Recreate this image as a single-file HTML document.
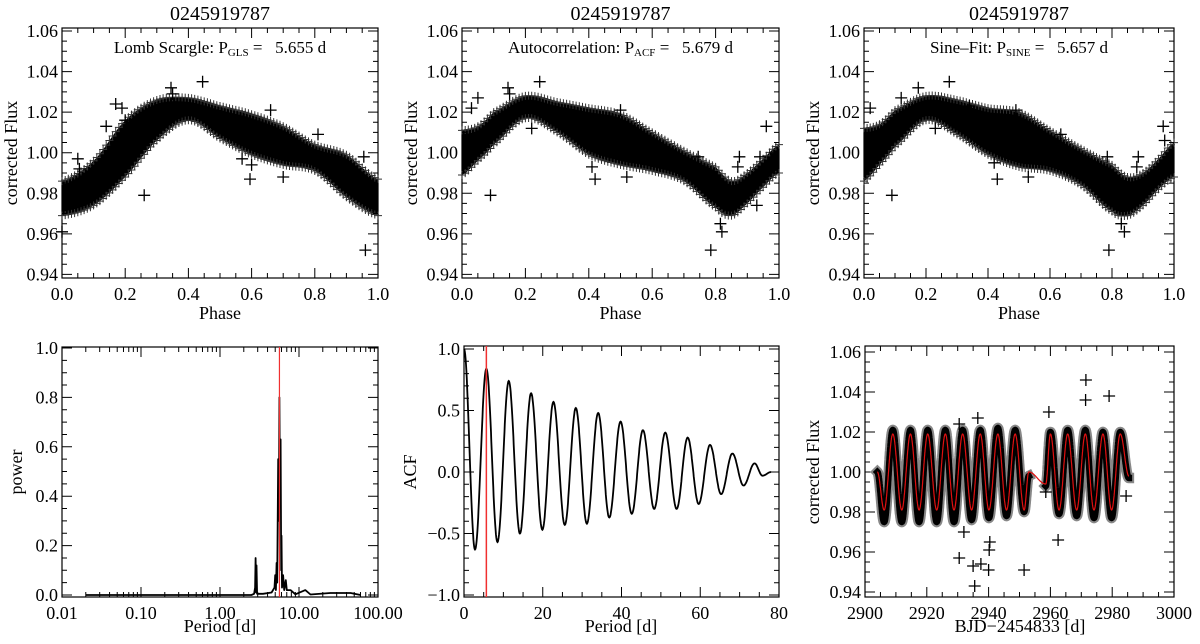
<!DOCTYPE html>
<html><head><meta charset="utf-8">
<style>
html,body{margin:0;padding:0;background:#fff;}
svg{display:block;font-family:"Liberation Serif",serif;}
</style></head>
<body>
<svg id="fig" width="1200" height="644" viewBox="0 0 1200 644" xmlns="http://www.w3.org/2000/svg"></svg>
<script>
// ---------- DATA ----------
const phaseKnots = [0,0.1,0.2,0.3,0.4,0.5,0.6,0.7,0.8,0.9,1.0];
const glsUpper = [0.986,0.996,1.016,1.026,1.027,1.023,1.019,1.013,1.004,0.999,0.987];
const glsLower = [0.969,0.974,0.988,1.006,1.016,1.007,0.999,0.994,0.991,0.978,0.969];
const acfKnots = [0,0.05,0.1,0.2,0.3,0.4,0.5,0.6,0.7,0.8,0.85,0.9,0.95,1.0];
const acfUpper = [1.011,1.013,1.020,1.028,1.025,1.022,1.019,1.010,1.001,0.993,0.986,0.990,0.997,1.004];
const acfLower = [0.989,0.996,1.004,1.017,1.010,0.999,0.994,0.991,0.986,0.973,0.969,0.975,0.983,0.990];
const sinKnots = [0,0.05,0.1,0.2,0.3,0.4,0.5,0.6,0.7,0.8,0.85,0.9,0.95,1.0];
const sinUpper = [1.012,1.014,1.021,1.028,1.026,1.022,1.020,1.011,1.002,0.994,0.988,0.990,0.997,1.005];
const sinLower = [0.986,0.994,1.003,1.016,1.009,0.999,0.993,0.991,0.984,0.971,0.969,0.974,0.982,0.988];
const glsOutPh = [0.0,0.05,0.055,0.14,0.17,0.19,0.26,0.345,0.445,0.57,0.60,0.595,0.70,0.66,0.81,0.96,0.955,0.35,0.20];
const glsOutFx = [0.961,0.997,0.992,1.013,1.024,1.022,0.979,1.032,1.035,0.997,0.994,0.987,0.988,1.021,1.009,0.952,0.998,1.029,1.016];
const acfOutPh = [0.09,0.03,0.05,0.145,0.245,0.22,0.42,0.41,0.52,0.50,0.785,0.815,0.82,0.875,0.87,0.96,0.94,0.93,0.745,0.15];
const acfOutFx = [0.979,1.022,1.027,1.032,1.035,1.012,0.987,0.993,0.988,1.021,0.952,0.965,0.961,0.998,0.993,1.013,0.998,0.974,0.998,1.029];
const sinOutPh = [0.09,0.02,0.12,0.175,0.275,0.23,0.43,0.42,0.53,0.49,0.79,0.83,0.84,0.885,0.88,0.965,0.97,0.635,0.785,0.34];
const sinOutFx = [0.979,1.022,1.027,1.032,1.035,1.012,0.987,0.995,0.988,1.021,0.952,0.965,0.961,0.998,0.993,1.013,1.006,1.009,0.998,1.023];
const glsPeriod = [0.02,2.5,2.7,2.78,2.82,2.86,2.9,2.95,3.5,4.5,4.9,5.0,5.1,5.2,5.3,5.45,5.55,5.65,5.75,5.85,5.95,6.0,6.1,6.3,6.5,6.8,7.0,7.8,9,12,14,25,45,60];
const glsPower  = [0,0,0.005,0.03,0.15,0.01,0.12,0.005,0.005,0.01,0.03,0.08,0.02,0.13,0.05,0.55,0.3,0.80,0.4,0.63,0.1,0.24,0.03,0.08,0.02,0.06,0.02,0.02,0.003,0.02,0.002,0.008,0.008,0];
const glsBest = 5.655;
const acfLagExt = [0,2.8,5.68,8.5,11.36,14.2,17.04,19.9,22.72,25.6,28.4,31.2,34.08,36.9,39.76,42.6,45.44,48.3,51.12,54.0,56.8,59.6,62.48,65.3,68.16,71.0,73.8,75.8,78];
const acfValExt = [1.0,-0.63,0.84,-0.57,0.74,-0.50,0.64,-0.47,0.57,-0.43,0.52,-0.42,0.48,-0.37,0.41,-0.34,0.34,-0.30,0.32,-0.30,0.28,-0.26,0.22,-0.18,0.15,-0.11,0.07,-0.03,0.0];
const acfBest = 5.679;
const tsExtT = [2904,2906.2,2909.0,2911.9,2914.7,2917.5,2920.3,2923.2,2926.0,2928.8,2931.6,2934.5,2937.3,2940.1,2943.0,2945.8,2948.6,2951.5,2953.0,2958.5,2960.0,2962.8,2965.6,2968.5,2971.3,2974.1,2977.0,2979.8,2982.6,2985.4];
const tsModel = [1.0,0.981,1.019,0.981,1.019,0.981,1.019,0.981,1.019,0.981,1.019,0.981,1.019,0.981,1.019,0.981,1.019,0.981,1.0,0.994,1.019,0.981,1.019,0.981,1.019,0.981,1.019,0.981,1.019,0.998];
const tsFlux  = [1.0,0.975,1.021,0.975,1.021,0.975,1.021,0.975,1.021,0.975,1.021,0.976,1.021,0.977,1.022,0.978,1.021,0.980,0.998,0.993,1.020,0.979,1.021,0.978,1.021,0.977,1.020,0.977,1.020,0.997];
const tsOutT = [2930.5,2932,2935,2935.5,2937.5,2940,2940.2,2940.4,2951.5,2962.5,2971.5,2971.4,2979,2958.5,2959.5,2936.5,2930.5,2984.5];
const tsOutF = [0.957,0.970,0.953,0.943,0.954,0.951,0.961,0.965,0.951,0.966,1.046,1.036,1.038,0.990,1.030,1.027,1.024,0.988];

// ---------- HELPERS ----------
const NS='http://www.w3.org/2000/svg';
const svg=document.getElementById('fig');
function mk(tag,attrs,parent){const e=document.createElementNS(NS,tag);for(const k in attrs)e.setAttribute(k,attrs[k]);(parent||svg).appendChild(e);return e;}
function lin(d0,d1,p0,p1){return v=>p0+(v-d0)*(p1-p0)/(d1-d0);}
function interp(xs,ys,x){
  let i=0;while(i<xs.length-2&&x>xs[i+1])i++;
  const t=(x-xs[i])/(xs[i+1]-xs[i]);
  const p0=ys[Math.max(0,i-1)],p1=ys[i],p2=ys[i+1],p3=ys[Math.min(ys.length-1,i+2)];
  const t2=t*t,t3=t2*t;
  return 0.5*((2*p1)+(-p0+p2)*t+(2*p0-5*p1+4*p2-p3)*t2+(-p0+3*p1-3*p2+p3)*t3);
}
function cosPath(xs,ys,sx,sy,step){let d='';for(let i=0;i<xs.length-1;i++){const n=Math.max(2,Math.ceil((xs[i+1]-xs[i])/step));for(let j=(i?1:0);j<=n;j++){const t=j/n;const x=xs[i]+t*(xs[i+1]-xs[i]);const y=ys[i]+(1-Math.cos(Math.PI*t))/2*(ys[i+1]-ys[i]);d+=(d?'L':'M')+sx(x).toFixed(1)+','+sy(y).toFixed(1);}}return d;}
function text(str,x,y,size,anchor,name,parent){const t=mk('text',{x:x,y:y,'font-size':size,'text-anchor':anchor||'middle',fill:'#000'},parent);t.textContent=str;return t;}

function frame(x0,x1,y0,y1,name){
  const g=mk('g',{});
  
  
  const r=mk('rect',{x:x0,y:y0,width:x1-x0,height:y1-y0,fill:'none',stroke:'#000','stroke-width':1.2},g);
  
  
  return g;
}
function xTicks(g,sx,vals,minors,y0,y1,labels,fs,name){
  let d='';
  vals.forEach(v=>{const x=sx(v);d+=`M${x},${y1}v-10M${x},${y0}v10`;});
  minors.forEach(v=>{const x=sx(v);d+=`M${x},${y1}v-5M${x},${y0}v5`;});
  const p=mk('path',{d:d,stroke:'#000','stroke-width':1,fill:'none'},g);
  
  
  vals.forEach((v,i)=>text(labels[i],sx(v),y1+22,fs,'middle',name+'-tick-label',g));
}
function yTicks(g,sy,vals,minors,x0,x1,labels,fs,name){
  let d='';
  vals.forEach(v=>{const y=sy(v);d+=`M${x0},${y}h10M${x1},${y}h-10`;});
  minors.forEach(v=>{const y=sy(v);d+=`M${x0},${y}h5M${x1},${y}h-5`;});
  const p=mk('path',{d:d,stroke:'#000','stroke-width':1,fill:'none'},g);
  
  
  vals.forEach((v,i)=>text(labels[i],x0-4,sy(v)+6,fs,'end',name+'-tick-label',g));
}
function range(a,b,s){const r=[];for(let v=a;v<=b+1e-9;v+=s)r.push(+v.toFixed(6));return r;}
function plus(g,x,y,s){return `M${(x-s).toFixed(1)},${y.toFixed(1)}h${2*s}M${x.toFixed(1)},${(y-s).toFixed(1)}v${2*s}`;}

const FS=18;
const fluxTicks=[0.94,0.96,0.98,1.00,1.02,1.04,1.06];
const fluxLabels=['0.94','0.96','0.98','1.00','1.02','1.04','1.06'];
const fluxMinor=range(0.94,1.06,0.005);
const phTicks=[0,0.2,0.4,0.6,0.8,1.0];
const phLabels=['0.0','0.2','0.4','0.6','0.8','1.0'];
const phMinor=range(0,1,0.05);

// ---------- TOP PHASE PANELS ----------
function phasePanel(x0,x1,knots,up,lo,oph,ofx,name,annot,sub,val){
  const y0=28,y1=278;
  const sx=lin(0,1,x0,x1), sy=lin(1,1.06,152.7,31);
  const g=frame(x0,x1,y0,y1,name);
  const cx=(x0+x1)/2;
  text('0245919787',cx,20,20,'middle','panel-title',g);
  let d='';const N=100;
  for(let i=0;i<=N;i++){const p=i/N;d+=(i?'L':'M')+sx(p).toFixed(1)+','+sy(interp(knots,up,p)).toFixed(1);}
  for(let i=N;i>=0;i--){const p=i/N;d+='L'+sx(p).toFixed(1)+','+sy(interp(knots,lo,p)).toFixed(1);}
  const band=mk('path',{d:d+'Z',fill:'#000'},g);
  
  
  let pd='';
  for(let i=0;i<=N;i++){const p=i/N;pd+=plus(g,sx(p),sy(interp(knots,up,p)),4);pd+=plus(g,sx(p),sy(interp(knots,lo,p)),4);}
  const edge=mk('path',{d:pd,stroke:'#333','stroke-width':1,fill:'none'},g);
  
  
  let od='';oph.forEach((p,i)=>{od+=plus(g,sx(p),sy(ofx[i]),6);});
  const out=mk('path',{d:od,stroke:'#000','stroke-width':1.3,fill:'none'},g);
  
  
  xTicks(g,sx,phTicks,phMinor,y0,y1,phLabels,FS,'x-axis');
  yTicks(g,sy,fluxTicks,fluxMinor,x0,x1,fluxLabels,FS,'y-axis');
  text('Phase',cx,319,FS,'middle','x-axis-title',g);
  const yt=text('corrected Flux',0,0,FS,'middle','y-axis-title',g);
  yt.setAttribute('transform',`translate(${x0-45},153) rotate(-90)`);
  const an=mk('text',{x:cx,y:53,'font-size':17,'text-anchor':'middle'},g);
  
  
  an.innerHTML=`${annot}: P<tspan font-size="11" dy="3">${sub}</tspan><tspan dy="-3"> =   </tspan><tspan xml:space="preserve">  ${val} d</tspan>`;
}
phasePanel(62,378,phaseKnots,glsUpper,glsLower,glsOutPh,glsOutFx,'lomb-scargle-phase-panel','Lomb Scargle','GLS','5.655');
phasePanel(462,779,acfKnots,acfUpper,acfLower,acfOutPh,acfOutFx,'acf-phase-panel','Autocorrelation','ACF','5.679');
phasePanel(864,1174,sinKnots,sinUpper,sinLower,sinOutPh,sinOutFx,'sine-fit-phase-panel','Sine\u2013Fit','SINE','5.657');

// ---------- PERIODOGRAM ----------
(function(){
  const x0=62,x1=378,y0=347,y1=597;
  const sx=v=>lin(-2,2,x0,x1)(Math.log10(v)), sy=lin(0,1,595,348);
  const g=frame(x0,x1,y0,y1,'periodogram-panel');
  const mins=[];for(let e=-2;e<2;e++)for(let k=2;k<=9;k++)mins.push(k*Math.pow(10,e));
  xTicks(g,sx,[0.01,0.1,1,10,100],mins,y0,y1,['0.01','0.10','1.00','10.00','100.00'],FS,'x-axis');
  yTicks(g,sy,[0,0.2,0.4,0.6,0.8,1.0],range(0,1,0.05),x0,x1,['0.0','0.2','0.4','0.6','0.8','1.0'],FS,'y-axis');
  let d='';glsPeriod.forEach((p,i)=>{d+=(i?'L':'M')+sx(p).toFixed(1)+','+sy(glsPower[i]).toFixed(1);});
  const l=mk('path',{d:d,stroke:'#000','stroke-width':1.8,fill:'none','stroke-linejoin':'round'},g);
  
  
  const r=mk('line',{x1:sx(glsBest),x2:sx(glsBest),y1:y0,y2:y1,stroke:'#f03030','stroke-width':1.2},g);
  
  
  text('Period [d]',220,632,FS,'middle','x-axis-title',g);
  const yt=text('power',0,0,FS,'middle','y-axis-title',g);
  yt.setAttribute('transform',`translate(22,472) rotate(-90)`);
})();

// ---------- ACF ----------
(function(){
  const x0=464,x1=779,y0=346,y1=597;
  const sx=lin(0,80,x0,x1), sy=lin(0,1,472,349);
  const g=frame(x0,x1,y0,y1,'acf-panel');
  xTicks(g,sx,[0,20,40,60,80],range(0,80,5),y0,y1,['0','20','40','60','80'],FS,'x-axis');
  yTicks(g,sy,[-1,-0.5,0,0.5,1],range(-1,1,0.1),x0,x1,['\u22121.0','\u22120.5','0.0','0.5','1.0'],FS,'y-axis');
  const l=mk('path',{d:cosPath(acfLagExt,acfValExt,sx,sy,0.1),stroke:'#000','stroke-width':1.8,fill:'none'},g);
  
  
  const r=mk('line',{x1:sx(acfBest),x2:sx(acfBest),y1:y0,y2:y1,stroke:'#f03030','stroke-width':1.5},g);
  
  
  text('Period [d]',621,632,FS,'middle','x-axis-title',g);
  const yt=text('ACF',0,0,FS,'middle','y-axis-title',g);
  yt.setAttribute('transform',`translate(416,472) rotate(-90)`);
})();

// ---------- TIME SERIES ----------
(function(){
  const x0=865,x1=1174,y0=346,y1=597;
  const sx=lin(2900,3000,x0,x1), sy=lin(1,1.06,472,352);
  const g=frame(x0,x1,y0,y1,'light-curve-panel');
  xTicks(g,sx,[2900,2920,2940,2960,2980,3000],range(2900,3000,5),y0,y1,['2900','2920','2940','2960','2980','3000'],FS,'x-axis');
  yTicks(g,sy,fluxTicks,fluxMinor,x0,x1,fluxLabels,FS,'y-axis');
  const gapI=tsExtT.indexOf(2953.0);
  const segs=[[0,gapI+1],[gapI+1,tsExtT.length]];
  segs.forEach(s=>{
    const T=tsExtT.slice(s[0],s[1]),F=tsFlux.slice(s[0],s[1]);
    const b=mk('path',{d:cosPath(T,F,sx,sy,0.05),stroke:'#888','stroke-width':10.5,fill:'none','stroke-linejoin':'round','stroke-linecap':'square'},g);
    
    
    const c=mk('path',{d:cosPath(T,F,sx,sy,0.05),stroke:'#000','stroke-width':6.5,fill:'none','stroke-linejoin':'round','stroke-linecap':'square'},g);
    
    
  });
  let od='';tsOutT.forEach((t,i)=>{od+=plus(g,sx(t),sy(tsOutF[i]),6);});
  const out=mk('path',{d:od,stroke:'#000','stroke-width':1.3,fill:'none'},g);
  
  
  const m=mk('path',{d:cosPath(tsExtT,tsModel,sx,sy,0.05),stroke:'#e01010','stroke-width':1.2,fill:'none'},g);
  
  
  text('BJD\u22122454833 [d]',1020,632,FS,'middle','x-axis-title',g);
  const yt=text('corrected Flux',0,0,FS,'middle','y-axis-title',g);
  yt.setAttribute('transform',`translate(819,472) rotate(-90)`);
})();
</script>
</body></html>
